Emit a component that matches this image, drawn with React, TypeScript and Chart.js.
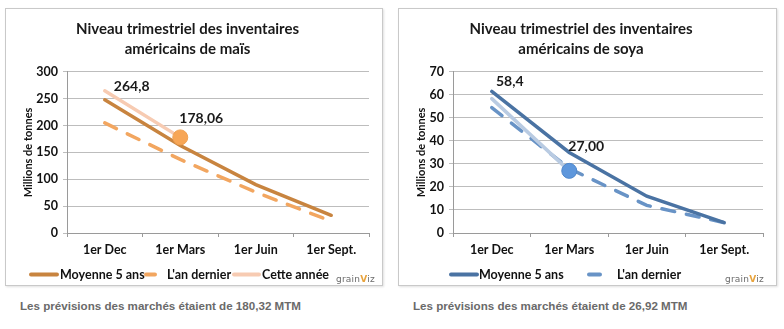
import React, { useEffect, useRef } from "react";
import { Chart, registerables } from "chart.js";

Chart.register(...registerables);

const FONT = "Lato, 'Noto Sans', sans-serif";

// ---- Data ----
const categories = ["1er Dec", "1er Mars", "1er Juin", "1er Sept."];

const maisTitle = ["Niveau trimestriel des inventaires", "américains de maïs"];
const maisAvg5 = [248, 163, 90, 33];
const maisLastYear = [205, 137, 76, 22];
const maisThisYear = [264.8, 178.06, null, null];
const maisValueLabels = ["264,8", "178,06"];
const maisYMax = 300;
const maisYStep = 50;
const maisCaption = "Les prévisions des marchés étaient de 180,32 MTM";

const soyaTitle = ["Niveau trimestriel des inventaires", "américains de soya"];
const soyaAvg5 = [61.5, 35, 16, 4.5];
const soyaLastYear = [54.5, 28, 12, 4.5];
const soyaThisYear = [58.4, 27.0, null, null];
const soyaValueLabels = ["58,4", "27,00"];
const soyaYMax = 70;
const soyaYStep = 10;
const soyaCaption = "Les prévisions des marchés étaient de 26,92 MTM";

const seriesNames = ["Moyenne 5 ans", "L'an dernier", "Cette année"];
const yAxisTitle = "Millions de tonnes";

type LegendItem = { datasetIndex: number; x: number; w: number; textX: number };

type PanelProps = {
  title: string[];
  avg: number[];
  last: number[];
  current: (number | null)[];
  valueLabels: string[];
  yMax: number;
  yStep: number;
  colors: { avg: string; last: string; current: string; marker: string; markerBorder: string };
  legendItems: LegendItem[];
  yAxisWidth: number;
  yTitlePad: number;
  labelOffsets: [number, number][];
  width: number;
  height: number;
};

const valueLabelPlugin = {
  id: "valueLabels",
  afterDatasetsDraw(chart: any, _args: any, opts: any) {
    const meta = chart.getDatasetMeta(2);
    const ctx = chart.ctx;
    ctx.save();
    ctx.font = `bold 14px ${FONT}`;
    ctx.fillStyle = "#1a1a1a";
    ctx.textAlign = "center";
    ctx.textBaseline = "middle";
    (opts.labels || []).forEach((t: string, i: number) => {
      const p = meta.data[i];
      if (!p) return;
      const [dx, dy] = opts.offsets[i];
      ctx.fillText(t, p.x + dx, p.y + dy);
    });
    ctx.restore();
  },
};

// Legend drawn on the canvas from the datasets' own label and line style
const lineLegendPlugin = {
  id: "lineLegend",
  afterDraw(chart: any, _args: any, opts: any) {
    const ctx = chart.ctx;
    const y = opts.y;
    ctx.save();
    ctx.font = `bold 12.5px ${FONT}`;
    ctx.textBaseline = "middle";
    ctx.textAlign = "left";
    (opts.items || []).forEach((it: LegendItem) => {
      const ds = chart.data.datasets[it.datasetIndex];
      ctx.strokeStyle = ds.borderColor;
      ctx.lineWidth = (ds.borderWidth || 3) + 0.5;
      ctx.lineCap = "round";
      ctx.setLineDash([]);
      ctx.beginPath();
      ctx.moveTo(it.x, y);
      ctx.lineTo(it.x + it.w, y);
      ctx.stroke();
      ctx.fillStyle = "#111";
      ctx.fillText(ds.label, it.textX, y + 0.5);
    });
    ctx.restore();
  },
};

function LinePanel(props: PanelProps) {
  const ref = useRef<HTMLCanvasElement | null>(null);
  useEffect(() => {
    if (!ref.current) return;
    const c = props.colors;
    const chart = new Chart(ref.current, {
      type: "line",
      data: {
        labels: categories,
        datasets: [
          {
            label: seriesNames[0],
            data: props.avg,
            borderColor: c.avg,
            backgroundColor: c.avg,
            borderWidth: 3.5,
            borderCapStyle: "round",
            pointRadius: 0,
            tension: 0,
            order: 1,
          },
          {
            label: seriesNames[1],
            data: props.last,
            borderColor: c.last,
            backgroundColor: c.last,
            borderWidth: 3.5,
            borderDash: [13, 12],
            borderCapStyle: "round",
            pointRadius: 0,
            tension: 0,
            order: 2,
          },
          {
            label: seriesNames[2],
            data: props.current,
            borderColor: c.current,
            backgroundColor: c.current,
            borderWidth: 3.5,
            borderCapStyle: "round",
            pointRadius: [0, 7.5, 0, 0],
            pointBackgroundColor: c.marker,
            pointBorderColor: c.markerBorder,
            pointBorderWidth: 1,
            tension: 0,
            order: 0,
          },
        ],
      },
      options: {
        animation: false,
        responsive: false,
        devicePixelRatio: 1,
        layout: { padding: { left: 0, right: 13, top: 0, bottom: 0 } },
        plugins: {
          title: {
            display: true,
            text: props.title,
            color: "#1a1a1a",
            font: { family: FONT, size: 15, weight: "bold", lineHeight: 1.33 },
            padding: { top: 10, bottom: 13 },
          },
          legend: { display: false },
          tooltip: { enabled: false },
          valueLabels: { labels: props.valueLabels, offsets: props.labelOffsets },
          lineLegend: { items: props.legendItems, y: 265.5 },
        } as any,
        scales: {
          x: {
            offset: true,
            grid: {
              offset: true,
              drawOnChartArea: false,
              drawTicks: true,
              tickLength: 4,
              color: "#9a9a9a",
            },
            border: { color: "#9a9a9a" },
            ticks: {
              color: "#111",
              font: { family: FONT, size: 12.5, weight: "bold" },
              padding: 5,
              maxRotation: 0,
            },
            afterFit: (s: any) => {
              s.height = 50;
            },
          },
          y: {
            min: 0,
            max: props.yMax,
            ticks: {
              stepSize: props.yStep,
              color: "#111",
              font: { family: FONT, size: 12.5, weight: "bold" },
              padding: 5,
            },
            grid: { color: "#bdbdbd", tickLength: 4 },
            border: { color: "#9a9a9a" },
            title: {
              display: true,
              text: yAxisTitle,
              color: "#111",
              font: { family: FONT, size: 11, weight: "bold" },
              padding: { top: props.yTitlePad, bottom: 0 },
            },
            afterFit: (s: any) => {
              s.width = props.yAxisWidth;
            },
          },
        },
      },
      plugins: [valueLabelPlugin as any, lineLegendPlugin as any],
    });
    return () => chart.destroy();
  }, []);
  return <canvas ref={ref} width={props.width} height={props.height} style={{ display: "block" }} />;
}

function Logo() {
  return (
    <span style={{ fontFamily: "'DejaVu Sans', sans-serif", fontSize: 9, color: "#6b6b6b", letterSpacing: 0.2 }}>
      grain<span style={{ color: "#e8a33c", fontWeight: "bold" }}>V</span>iz
    </span>
  );
}

const panelStyle: React.CSSProperties = {
  position: "absolute",
  top: 8,
  height: 276,
  border: "1px solid #c9c9c9",
  boxShadow: "1px 1px 2px rgba(0,0,0,0.12)",
  overflow: "hidden",
  background: "#fff",
};

const captionStyle: React.CSSProperties = {
  position: "absolute",
  top: 299,
  fontFamily: "'Liberation Sans', Arial, sans-serif",
  fontWeight: "bold",
  fontSize: 11.6,
  color: "#6a6a6a",
  whiteSpace: "nowrap",
};

export default function App() {
  return (
    <div style={{ position: "absolute", left: 0, top: 0, width: 784, height: 329, background: "#fff" }}>
      <div style={{ ...panelStyle, left: 5, width: 376 }}>
        <LinePanel
          title={maisTitle}
          avg={maisAvg5}
          last={maisLastYear}
          current={maisThisYear}
          valueLabels={maisValueLabels}
          yMax={maisYMax}
          yStep={maisYStep}
          colors={{ avg: "#c8843f", last: "#f2a660", current: "#f7cbb2", marker: "#f7a656", markerBorder: "#f0a050" }}
          legendItems={[
            { datasetIndex: 0, x: 25, w: 26, textX: 54 },
            { datasetIndex: 1, x: 140, w: 9, textX: 161 },
            { datasetIndex: 2, x: 228, w: 25, textX: 256 },
          ]}
          yAxisWidth={61}
          yTitlePad={16}
          labelOffsets={[[27, -4], [21, -19]]}
          width={376}
          height={274}
        />
        <div style={{ position: "absolute", left: 330, top: 259 }}>
          <Logo />
        </div>
      </div>
      <div style={captionStyle as any}>
        <span style={{ position: "absolute", left: 20 }}>{maisCaption}</span>
      </div>
      <div style={{ ...panelStyle, left: 398, width: 377 }}>
        <LinePanel
          title={soyaTitle}
          avg={soyaAvg5}
          last={soyaLastYear}
          current={soyaThisYear}
          valueLabels={soyaValueLabels}
          yMax={soyaYMax}
          yStep={soyaYStep}
          colors={{ avg: "#4a73a3", last: "#6893c6", current: "#b9cbe2", marker: "#5e97dc", markerBorder: "#5088cc" }}
          legendItems={[
            { datasetIndex: 0, x: 52, w: 26, textX: 80 },
            { datasetIndex: 1, x: 190, w: 11, textX: 218 },
          ]}
          yAxisWidth={54}
          yTitlePad={16}
          labelOffsets={[[18, -17], [17, -24]]}
          width={377}
          height={274}
        />
        <div style={{ position: "absolute", left: 326, top: 259 }}>
          <Logo />
        </div>
      </div>
      <div style={captionStyle as any}>
        <span style={{ position: "absolute", left: 413 }}>{soyaCaption}</span>
      </div>
    </div>
  );
}
